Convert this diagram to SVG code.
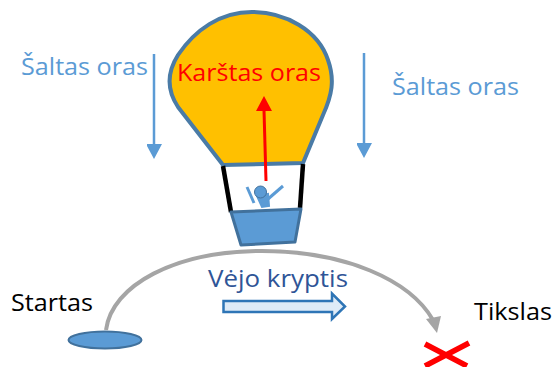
<svg xmlns="http://www.w3.org/2000/svg" width="554" height="367" viewBox="0 0 554 367">
  <style>
    text { font-family: "Open Sans", "Noto Sans", "Liberation Sans", sans-serif; font-size: 24px; }
    .cold { fill: #5b9bd5; }
    .blue { fill: #5b9bd5; stroke: #41719c; stroke-width: 3; stroke-linejoin: round; }
    .rope { stroke: #000; stroke-width: 4.5; fill: none; }
    .pilot { stroke: #5b9bd5; stroke-width: 3; fill: none; }
    .down { stroke: #5b9bd5; stroke-width: 2.5; fill: none; marker-end: url(#coldHead); }
  </style>
  <defs>
    <marker id="coldHead" markerUnits="userSpaceOnUse" markerWidth="16" markerHeight="15" refX="0" refY="8" orient="auto">
      <path d="M0,0 L15,8 L0,16 Z" fill="#5b9bd5"/>
    </marker>
  </defs>

  <g id="balloon">
    <path d="M223,165 L303,163 L323,115 C332,95 335,80 328,60 C318,30 285,12 252,12 C220,12 195,30 178,55 C166,74 168,92 178,107 Z" fill="#ffc000" stroke="#4a7ba6" stroke-width="4" stroke-linejoin="round"/>
    <text x="177" y="81" fill="#ff0000" textLength="144" lengthAdjust="spacingAndGlyphs">Karštas oras</text>
  </g>

  <g id="gondola">
    <line class="rope" x1="223" y1="166" x2="231" y2="212"/>
    <line class="rope" x1="303" y1="164" x2="300" y2="208"/>
    <path class="blue" d="M231,212 L301,209 L295,242 L241,245 Z"/>
  </g>

  <g id="pilot">
    <line class="pilot" x1="247" y1="187" x2="254" y2="203"/>
    <line class="pilot" x1="283" y1="186" x2="268" y2="199"/>
    <path d="M257,196 L268,194 L269,206 L262,207 Z" fill="#5b9bd5" stroke="#5b9bd5" stroke-width="2"/>
    <circle cx="260.500" cy="192" r="6" fill="#5b9bd5" stroke="#41719c" stroke-width="1"/>
  </g>

  <g id="cold-left">
    <text class="cold" x="21" y="75" textLength="127" lengthAdjust="spacingAndGlyphs">Šaltas oras</text>
  </g>
  <g id="cold-right">
    <text class="cold" x="392" y="95" textLength="127" lengthAdjust="spacingAndGlyphs">Šaltas oras</text>
  </g>
  <g id="start">
    <ellipse cx="105" cy="340" rx="36.500" ry="8.500" fill="#5b9bd5" stroke="#41719c" stroke-width="2"/>
    <text x="11" y="311" fill="#000" textLength="82" lengthAdjust="spacingAndGlyphs">Startas</text>
  </g>
  <g id="target">
    <path d="M425,344 L467,366 M469,343 L425,366" stroke="#ff0000" stroke-width="5.500" fill="none"/>
    <text x="474" y="320" fill="#000" textLength="78" lengthAdjust="spacingAndGlyphs">Tikslas</text>
  </g>
  <g id="wind">
    <path d="M223.500,301 H332 V293.500 L345,306.500 L332,319 V312 H223.500 Z" fill="#deebf7" stroke="#2e75b6" stroke-width="2.500"/>
    <text x="208" y="287" fill="#2f5597" textLength="140" lengthAdjust="spacingAndGlyphs">Vėjo kryptis</text>
  </g>

  <g id="connectors">
    <line class="down" x1="154" y1="54" x2="154" y2="144"/>
    <line class="down" x1="364" y1="53" x2="364" y2="143"/>
    <line x1="266" y1="181" x2="264" y2="110" stroke="#ff0000" stroke-width="3"/>
    <path d="M264,96 L272,111 L256,111 Z" fill="#ff0000"/>
    <path d="M106,330 C112,285 175,251 262,251 C345,251 410,280 433,320" stroke="#a5a5a5" stroke-width="4" fill="none"/>
    <path d="M437,333 L426,319 L441,316 Z" fill="#a5a5a5"/>
  </g>
</svg>
